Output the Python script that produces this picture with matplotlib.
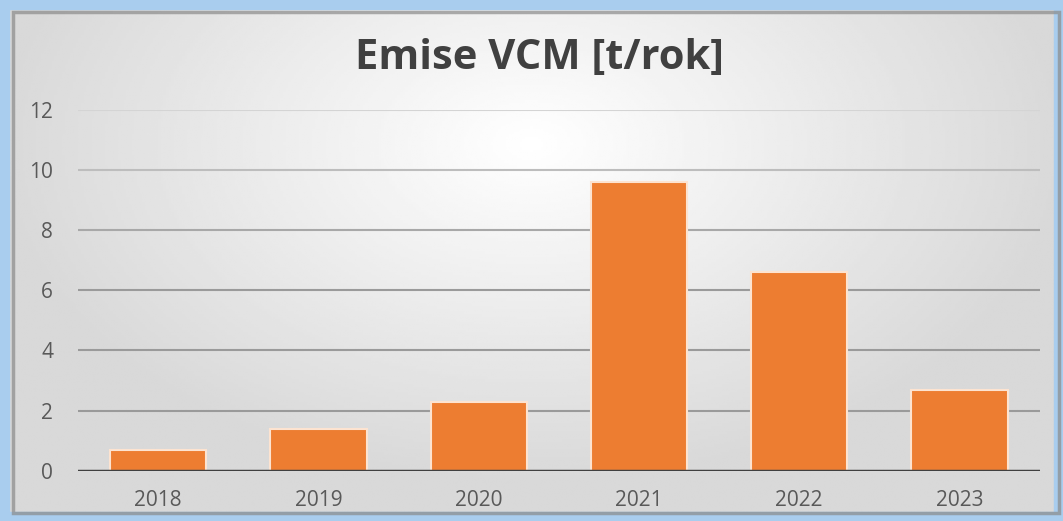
import numpy as np
import matplotlib.pyplot as plt
from matplotlib.patches import Rectangle

# data
years = ["2018", "2019", "2020", "2021", "2022", "2023"]
emise = [0.7, 1.4, 2.3, 9.6, 6.6, 2.7]
y_ticks = [0, 2, 4, 6, 8, 10, 12]

TITLE = "Emise VCM [t/rok]"
BAR_COLOR = "#ED7D31"
TEXT_COLOR = "#595959"

plt.rcParams["font.family"] = ["Open Sans", "DejaVu Sans"]

fig = plt.figure(figsize=(10.63, 5.21), dpi=100)

# background: radial gradient, white in the upper middle, grey towards the edges
bg = fig.add_axes([0, 0, 1, 1], zorder=0)
gx, gy = np.meshgrid(np.linspace(-1, 1, 400), np.linspace(-1, 1, 200))
r = np.sqrt((gx / 1.0) ** 2 + ((gy + 0.45) / 1.3) ** 2)
bg.imshow(1 - 0.15 * np.clip(r, 0, 1), cmap="gray", vmin=0, vmax=1,
          extent=[0, 1, 0, 1], aspect="auto", origin="upper")
# blue glow frame and inner shadow
bg.add_patch(Rectangle((0, 0), 1, 1, fill=False, ec="#A9CDEE", lw=14,
                       transform=bg.transAxes))
bg.add_patch(Rectangle((0.012, 0.015), 0.984, 0.962, fill=False, ec="#8a8a8a",
                       lw=2.5, alpha=0.7, transform=bg.transAxes))
bg.set_xlim(0, 1)
bg.set_ylim(0, 1)
bg.axis("off")

ax = fig.add_axes([0.0734, 0.0965, 0.9046, 0.6925], zorder=1)
ax.patch.set_alpha(0)

x = np.arange(len(years))
ax.bar(x, emise, width=0.6, color=BAR_COLOR, edgecolor="#FDE3D0",
       linewidth=1.5, zorder=3)

ax.set_xlim(-0.5, len(years) - 0.5)
ax.set_ylim(0, 12)
ax.set_yticks(y_ticks)
ax.set_xticks(x)
ax.set_xticklabels(years)

grid_colors = ["#9a9a9a", "#9a9a9a", "#9a9a9a", "#a8a8a8", "#bdbdbd", "#d4d4d4"]
for v, c in zip(y_ticks[1:], grid_colors):
    ax.axhline(v, color=c, lw=1.5, zorder=1)
ax.axhline(0, color="#404040", lw=2.5, zorder=4)

for s in ax.spines.values():
    s.set_visible(False)
ax.tick_params(length=0, labelsize=15, labelcolor=TEXT_COLOR)
ax.tick_params(axis="y", pad=18)
ax.tick_params(axis="x", pad=14)

fig.text(0.507, 0.888, TITLE, ha="center", va="center", fontsize=30,
         fontweight="bold", color="#404040")

fig.savefig("out.png", dpi=100)
